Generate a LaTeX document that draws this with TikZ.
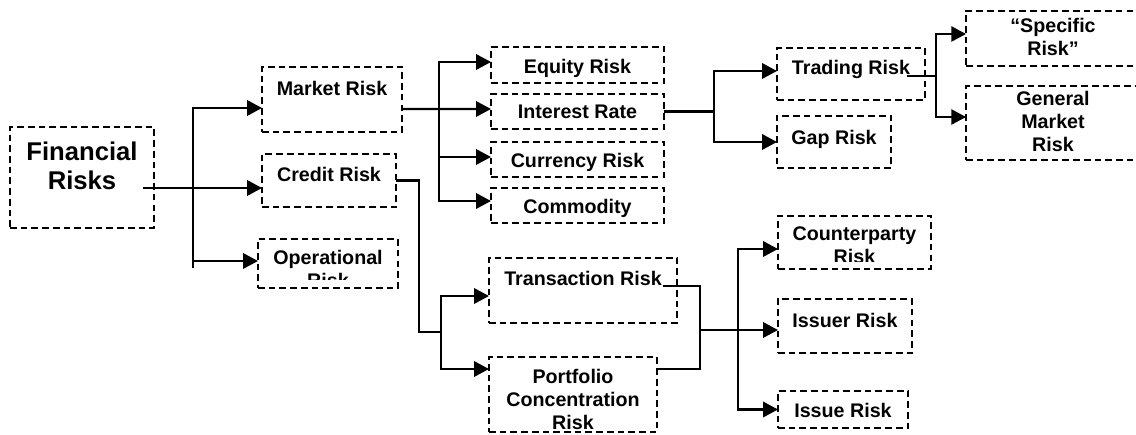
\documentclass[tikz,border=0pt]{standalone}
\usepackage{fontspec}
\setmainfont{Liberation Sans}
\usetikzlibrary{positioning,arrows.meta}

\tikzset{
  riskbox/.style={draw, dash pattern=on 3.8pt off 2.3pt, line width=1.25pt, inner sep=0pt, outer sep=0pt},
  risktext/.style={inner sep=0pt, outer sep=0pt, align=center, font=\bfseries\fontsize{11.2}{13.1}\selectfont},
  link/.style={line width=1.4pt},
}

\begin{document}
\begin{tikzpicture}[>={Triangle[length=8.4pt,width=8.6pt]}]
    \clip (0,0) rectangle (22.72,-8.70);
    % boxes
    \node[riskbox, minimum width=2.88cm, minimum height=2.02cm] (fin) at (1.64,-3.55) {};
    \node[riskbox, minimum width=2.80cm, minimum height=1.30cm] (mkt) at (6.64,-1.99) {};
    \node[riskbox, minimum width=2.68cm, minimum height=1.06cm] (crd) at (6.58,-3.61) {};
    \node[riskbox, minimum width=2.80cm, minimum height=0.98cm] (opr) at (6.56,-5.27) {};
    \node[riskbox, minimum width=3.46cm, minimum height=0.72cm] (eqt) at (11.55,-1.30) {};
    \node[riskbox, minimum width=3.46cm, minimum height=0.70cm] (irt) at (11.55,-2.23) {};
    \node[riskbox, minimum width=3.46cm, minimum height=0.70cm] (cur) at (11.55,-3.19) {};
    \node[riskbox, minimum width=3.46cm, minimum height=0.70cm] (com) at (11.55,-4.11) {};
    \node[riskbox, minimum width=2.96cm, minimum height=1.04cm] (trd) at (17.02,-1.48) {};
    \node[riskbox, minimum width=2.28cm, minimum height=1.04cm] (gap) at (16.68,-2.84) {};
    \node[riskbox, minimum width=3.48cm, minimum height=1.10cm] (spc) at (21.06,-0.77) {};
    \node[riskbox, minimum width=3.48cm, minimum height=1.48cm] (gmr) at (21.06,-2.46) {};
    \node[riskbox, minimum width=3.76cm, minimum height=1.30cm] (trn) at (11.66,-5.81) {};
    \node[riskbox, minimum width=3.36cm, minimum height=1.50cm] (pcr) at (11.46,-7.89) {};
    \node[riskbox, minimum width=3.06cm, minimum height=1.06cm] (cpt) at (17.09,-4.85) {};
    \node[riskbox, minimum width=2.68cm, minimum height=1.08cm] (isr) at (16.90,-6.52) {};
    \node[riskbox, minimum width=2.60cm, minimum height=0.74cm] (iss) at (16.86,-8.19) {};

    % texts
    \node[risktext, font=\bfseries\fontsize{14.6}{17}\selectfont, below=0.29cm of fin.north] (fint) {Financial\\Risks};
    \node[risktext, below=0.29cm of mkt.north] (mktt) {Market Risk};
    \node[risktext, below=0.26cm of crd.north] (crdt) {Credit Risk};
    \begin{scope}
        \clip ([yshift=0.16cm]opr.south west) rectangle (opr.north east);
        \node[risktext, below=0.22cm of opr.north] (oprt) {Operational\\Risk};
    \end{scope}
    \node[risktext, below=0.24cm of eqt.north] (eqtt) {Equity Risk};
    \node[risktext, below=0.22cm of irt.north] (irtt) {Interest Rate};
    \node[risktext, below=0.22cm of cur.north] (curt) {Currency Risk};
    \node[risktext, below=0.22cm of com.north] (comt) {Commodity};
    \node[risktext, below=0.24cm of trd.north] (trdt) {Trading Risk};
    \node[risktext, below=0.28cm of gap.north] (gapt) {Gap Risk};
    \node[risktext, below=0.14cm of spc.north] (spct) {“Specific\\Risk”};
    \node[risktext, below=0.10cm of gmr.north] (gmrt) {General\\Market\\Risk};
    \node[risktext, below=0.26cm of trn.north] (trnt) {Transaction Risk};
    \node[risktext, below=0.24cm of pcr.north] (pcrt) {Portfolio\\Concentration\\Risk};
    \begin{scope}
        \clip ([yshift=0.14cm]cpt.south west) rectangle (cpt.north east);
        \node[risktext, below=0.22cm of cpt.north] (cptt) {Counterparty\\Risk};
    \end{scope}
    \node[risktext, below=0.28cm of isr.north] (isrt) {Issuer Risk};
    \node[risktext, below=0.24cm of iss.north] (isst) {Issue Risk};

    % junctions
    \coordinate (fin-o) at (2.86,-3.76);
    \coordinate (b1) at (3.86,-3.76);
    \coordinate (b2) at (8.78,-2.18);
    \coordinate (b3) at (14.28,-2.23);
    \coordinate (trd-o) at (18.14,-1.52);
    \coordinate (b4) at (18.72,-1.52);
    \coordinate (b5) at (8.82,-6.64);
    \coordinate (trn-o) at (13.26,-5.72);
    \coordinate (m6) at (14.00,-6.60);
    \coordinate (b6) at (14.76,-6.60);

    % level 1
    \draw[link,->] (fin-o) -- (fin-o -| crd.west);
    \draw[link,->] (b1) |- ([yshift=-0.17cm]mkt.west);
    \draw[link,->] (b1) |- ([yshift=0.05cm]opr.west);
    \draw[link] (b1) -- ++(0,-1.60);
    % market risk
    \draw[link,->] ([yshift=-0.19cm]mkt.east) -- ([yshift=0.05cm]irt.west);
    \draw[link,->] (b2) |- ([yshift=0.06cm]eqt.west);
    \draw[link,->] (b2) |- ([yshift=0.05cm]cur.west);
    \draw[link,->] (b2) |- ([yshift=0.09cm]com.west);
    % interest rate
    \draw[link] (irt.east) -- (b3);
    \draw[link,->] (b3) |- ([yshift=0.06cm]trd.west);
    \draw[link,->] (b3) |- (gap.west);
    % trading risk
    \draw[link] (trd-o) -- (b4);
    \draw[link,->] (b4) |- ([yshift=0.09cm]spc.west);
    \draw[link,->] (b4) |- ([yshift=0.12cm]gmr.west);
    % credit risk
    \draw[link] (crd.east) -- ++(0.46,0) |- (b5);
    \draw[link,->] (b5) |- ([yshift=-0.11cm]trn.west);
    \draw[link,->] (b5) |- ([yshift=0.51cm]pcr.west);
    % transaction and portfolio
    \draw[link] (trn-o) -| (m6) |- ([yshift=0.51cm]pcr.east);
    \draw[link,->] (m6) -- (m6 -| isr.west);
    \draw[link,->] (b6) |- ([yshift=-0.13cm]cpt.west);
    \draw[link,->] (b6) |- (iss.west);
\end{tikzpicture}
\end{document}
